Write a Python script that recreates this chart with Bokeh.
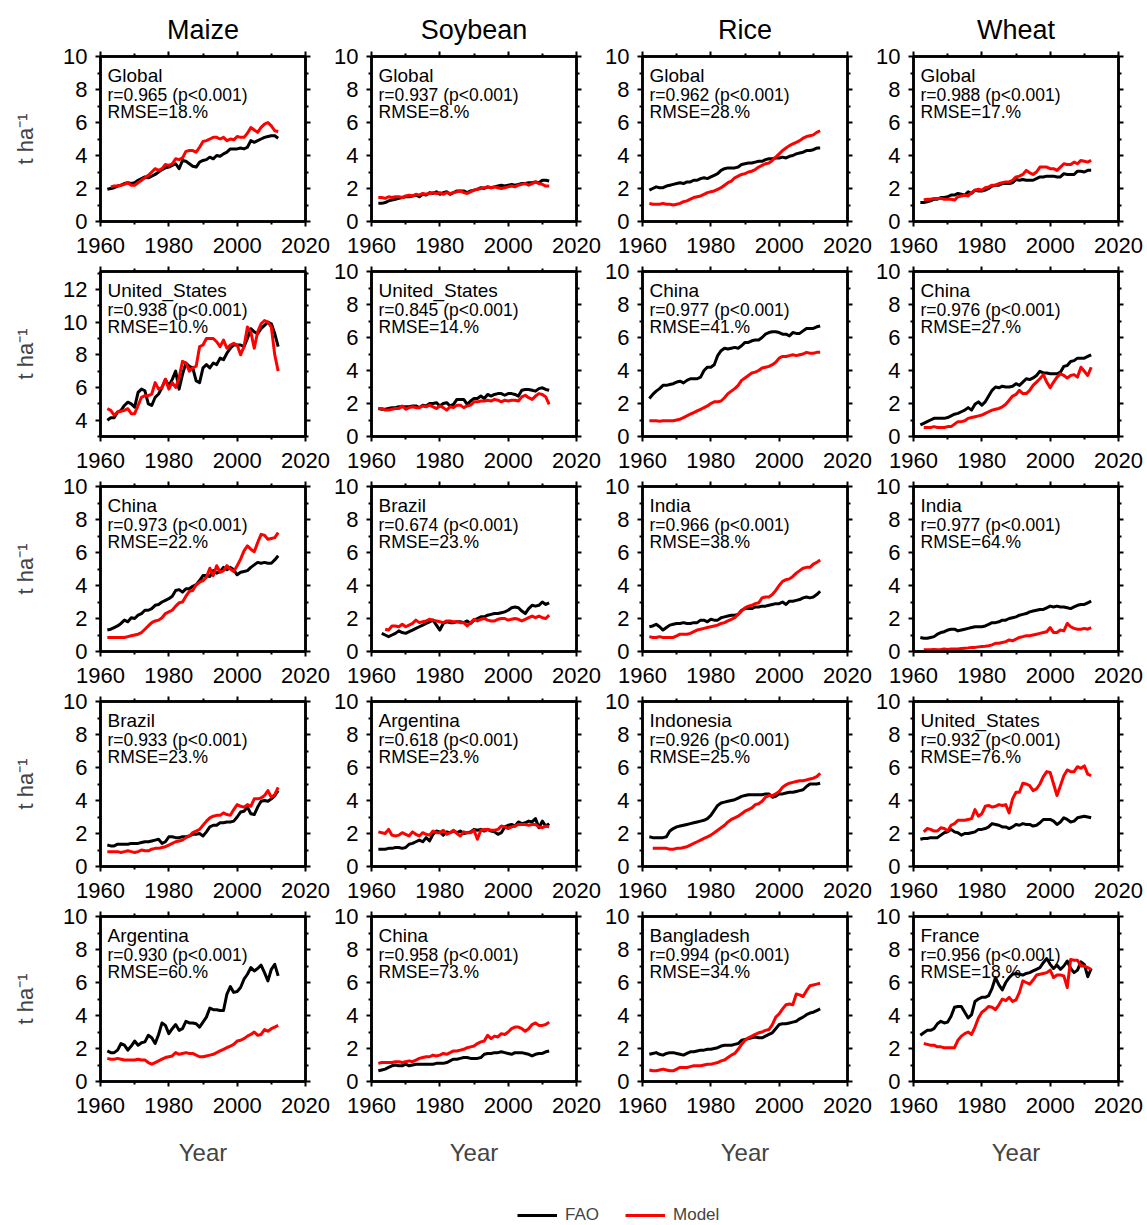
import numpy as np
from bokeh.plotting import figure
from bokeh.models import Range1d, FixedTicker, LinearAxis, Label, Legend, LegendItem
from bokeh.layouts import gridplot, column
from bokeh.embed import file_html
from bokeh.resources import INLINE

nan = float("nan")
years = list(range(1962, 2013))

crops = ["Maize", "Soybean", "Rice", "Wheat"]

region_names = [
    ["Global", "Global", "Global", "Global"],
    ["United_States", "United_States", "China", "China"],
    ["China", "Brazil", "India", "India"],
    ["Brazil", "Argentina", "Indonesia", "United_States"],
    ["Argentina", "China", "Bangladesh", "France"],
]
r_values = [
    [0.965, 0.937, 0.962, 0.988],
    [0.938, 0.845, 0.977, 0.976],
    [0.973, 0.674, 0.966, 0.977],
    [0.933, 0.618, 0.926, 0.932],
    [0.930, 0.958, 0.994, 0.956],
]
rmse_pct = [
    [18, 8, 28, 17],
    [10, 14, 41, 27],
    [22, 23, 38, 64],
    [23, 23, 25, 76],
    [60, 73, 34, 18],
]

# yields in t/ha, 1962-2012 (FAO statistics vs. simulated)
maize_global_fao = [1.95, 2.0, 2.05, 2.15, 2.2, 2.3, 2.35, 2.3,
    2.35, 2.5, 2.6, 2.7, 2.65, 2.75, 2.85, 3.0, 3.15, 3.25,
    3.3, 3.4, 3.5, 3.2, 3.7, 3.65, 3.5, 3.35, 3.3, 3.6,
    3.7, 3.75, 3.9, 3.8, 4.0, 3.95, 4.1, 4.2, 4.4, 4.4,
    4.4, 4.45, 4.4, 4.5, 4.9, 4.8, 4.9, 5.0, 5.1, 5.15,
    5.2, 5.2, 5.05]
maize_global_model = [nan, 2.1, 2.15, 2.15, 2.2, 2.25, 2.35, 2.2,
    2.2, 2.35, 2.5, 2.65, 2.8, 3.0, 3.2, 3.1, 3.2, 3.45,
    3.4, 3.5, 3.8, 3.75, 3.85, 4.25, 4.3, 4.3, 4.2, 4.5,
    4.85, 4.9, 5.0, 5.1, 5.1, 5.0, 5.1, 4.9, 5.0, 4.95,
    5.15, 5.1, 5.1, 5.35, 5.7, 5.55, 5.4, 5.7, 5.9, 6.0,
    5.8, 5.5, 5.45]

soy_global_fao = [1.1, 1.1, 1.15, 1.25, 1.3, 1.35, 1.4, 1.45,
    1.5, 1.5, 1.55, 1.6, 1.5, 1.65, 1.6, 1.75, 1.7, 1.8,
    1.65, 1.75, 1.8, 1.65, 1.75, 1.85, 1.85, 1.85, 1.75, 1.85,
    1.9, 1.95, 2.05, 2.0, 2.1, 2.05, 2.1, 2.15, 2.2, 2.15,
    2.2, 2.25, 2.2, 2.25, 2.3, 2.3, 2.35, 2.35, 2.4, 2.35,
    2.5, 2.5, 2.45]
soy_global_model = [1.45, 1.45, 1.4, 1.5, 1.45, 1.5, 1.5, 1.45,
    1.55, 1.6, 1.55, 1.65, 1.6, 1.7, 1.65, 1.7, 1.75, 1.7,
    1.75, 1.65, 1.75, 1.7, 1.75, 1.8, 1.85, 1.75, 1.7, 1.8,
    1.9, 1.95, 2.0, 2.05, 2.1, 2.05, 2.1, 2.05, 2.0, 2.05,
    2.1, 2.15, 2.1, 2.2, 2.25, 2.3, 2.2, 2.3, 2.4, 2.3,
    2.25, 2.15, 2.15]

rice_global_fao = [1.9, 2.0, 2.1, 2.05, 2.05, 2.15, 2.2, 2.25,
    2.3, 2.35, 2.3, 2.4, 2.4, 2.5, 2.5, 2.6, 2.65, 2.6,
    2.7, 2.8, 2.9, 3.1, 3.2, 3.25, 3.25, 3.25, 3.3, 3.45,
    3.5, 3.55, 3.55, 3.6, 3.65, 3.65, 3.75, 3.8, 3.8, 3.85,
    3.85, 3.9, 3.85, 3.95, 4.0, 4.1, 4.15, 4.2, 4.3, 4.3,
    4.35, 4.45, 4.45]
rice_global_model = [1.1, 1.05, 1.05, 1.05, 1.1, 1.05, 1.05, 1.0,
    1.05, 1.1, 1.2, 1.25, 1.35, 1.45, 1.5, 1.55, 1.65, 1.75,
    1.8, 1.85, 1.95, 2.05, 2.2, 2.35, 2.45, 2.65, 2.75, 2.85,
    2.9, 3.0, 3.05, 3.15, 3.3, 3.4, 3.5, 3.55, 3.7, 3.9,
    4.1, 4.3, 4.45, 4.6, 4.7, 4.8, 4.9, 5.05, 5.15, 5.2,
    5.25, 5.4, 5.5]

wheat_global_fao = [1.15, 1.15, 1.2, 1.25, 1.35, 1.35, 1.45, 1.45,
    1.5, 1.6, 1.6, 1.7, 1.65, 1.6, 1.8, 1.7, 1.9, 1.85,
    1.85, 1.9, 2.0, 2.15, 2.2, 2.2, 2.3, 2.3, 2.3, 2.35,
    2.55, 2.5, 2.55, 2.5, 2.5, 2.5, 2.6, 2.7, 2.7, 2.75,
    2.75, 2.75, 2.7, 2.7, 2.9, 2.85, 2.85, 2.85, 3.05, 3.05,
    3.0, 3.1, 3.1]
wheat_global_model = [nan, 1.3, 1.35, 1.35, 1.4, 1.4, 1.4, 1.35,
    1.35, 1.35, 1.3, 1.5, 1.55, 1.6, 1.55, 1.75, 1.9, 1.95,
    1.9, 2.05, 2.1, 2.2, 2.2, 2.3, 2.35, 2.4, 2.4, 2.5,
    2.7, 2.75, 2.85, 3.1, 2.95, 2.85, 3.0, 3.3, 3.3, 3.3,
    3.2, 3.2, 3.1, 3.3, 3.5, 3.45, 3.45, 3.6, 3.5, 3.7,
    3.65, 3.6, 3.7]

maize_us_fao = [4.0, 4.15, 4.15, 4.5, 4.6, 4.9, 5.1, 5.0,
    4.8, 5.7, 5.9, 5.8, 5.0, 4.9, 5.4, 5.6, 6.0, 6.5,
    6.1, 6.5, 7.0, 5.9, 6.8, 7.5, 7.3, 7.2, 6.4, 6.3,
    7.2, 7.4, 7.2, 7.5, 7.4, 7.8, 7.7, 8.1, 8.4, 8.6,
    8.6, 8.6, 8.5, 9.0, 9.6, 9.4, 9.3, 9.6, 9.8, 10.0,
    9.9, 9.3, 8.5]
maize_us_model = [4.7, 4.6, 4.3, 4.5, 4.55, 4.6, 4.7, 4.4,
    4.4, 4.9, 5.4, 5.5, 5.5, 5.6, 6.3, 5.9, 6.0, 6.5,
    5.9, 6.3, 6.0, 6.6, 7.6, 7.5, 7.0, 7.2, 7.3, 8.5,
    8.6, 9.0, 9.0, 9.0, 8.8, 8.5, 8.9, 8.4, 8.6, 8.7,
    8.6, 8.0, 8.5, 9.7, 9.4, 8.4, 9.4, 9.9, 10.1, 10.0,
    9.7, 8.0, 7.0]

soy_us_fao = [1.7, 1.65, 1.65, 1.7, 1.75, 1.75, 1.8, 1.8,
    1.8, 1.8, 1.85, 1.85, 1.75, 1.9, 1.85, 2.0, 2.0, 2.05,
    1.85, 2.0, 2.05, 1.85, 1.95, 2.25, 2.25, 2.25, 1.95, 2.15,
    2.3, 2.3, 2.45, 2.3, 2.55, 2.45, 2.55, 2.6, 2.6, 2.5,
    2.6, 2.6, 2.55, 2.45, 2.8, 2.85, 2.85, 2.8, 2.75, 2.9,
    2.95, 2.85, 2.8]
soy_us_model = [1.7, 1.7, 1.6, 1.6, 1.65, 1.7, 1.7, 1.85,
    1.65, 1.75, 1.8, 1.75, 1.75, 1.85, 1.8, 1.9, 1.8, 1.7,
    1.85, 1.75, 1.6, 1.8, 1.75, 1.9, 1.9, 1.75, 1.85, 1.9,
    2.1, 2.1, 2.15, 2.15, 2.2, 2.15, 2.25, 2.2, 2.1, 2.2,
    2.15, 2.2, 2.2, 2.15, 2.4, 2.5, 2.35, 2.25, 2.45, 2.6,
    2.55, 2.4, 1.95]

rice_china_fao = [2.3, 2.55, 2.75, 2.9, 3.1, 3.1, 3.15, 3.2,
    3.3, 3.35, 3.25, 3.4, 3.5, 3.5, 3.5, 3.6, 4.0, 4.2,
    4.2, 4.35, 4.9, 5.2, 5.35, 5.3, 5.35, 5.4, 5.35, 5.5,
    5.7, 5.7, 5.8, 5.85, 5.85, 6.0, 6.2, 6.3, 6.35, 6.35,
    6.3, 6.2, 6.2, 6.1, 6.3, 6.25, 6.25, 6.4, 6.55, 6.55,
    6.55, 6.65, 6.7]
rice_china_model = [0.95, 0.95, 0.95, 0.93, 0.95, 0.95, 0.95, 0.95,
    1.0, 1.05, 1.15, 1.25, 1.35, 1.45, 1.55, 1.65, 1.75, 1.85,
    2.0, 2.1, 2.1, 2.15, 2.35, 2.6, 2.75, 2.9, 3.1, 3.4,
    3.55, 3.7, 3.85, 3.9, 4.0, 4.15, 4.2, 4.25, 4.35, 4.5,
    4.75, 4.85, 4.85, 4.9, 4.95, 4.9, 4.95, 5.0, 5.1, 5.05,
    5.05, 5.1, 5.1]

wheat_china_fao = [0.7, 0.8, 0.9, 1.0, 1.1, 1.1, 1.1, 1.1,
    1.15, 1.25, 1.35, 1.4, 1.5, 1.6, 1.75, 1.6, 1.95, 2.1,
    1.9, 2.1, 2.45, 2.8, 3.0, 2.95, 3.05, 3.0, 3.0, 3.05,
    3.2, 3.1, 3.3, 3.5, 3.45, 3.55, 3.7, 3.95, 3.85, 3.85,
    3.8, 3.8, 3.8, 3.9, 4.25, 4.3, 4.55, 4.6, 4.75, 4.75,
    4.75, 4.85, 4.95]
wheat_china_model = [nan, 0.55, 0.55, 0.55, 0.6, 0.55, 0.55, 0.55,
    0.6, 0.6, 0.75, 0.9, 0.9, 0.95, 1.1, 1.15, 1.2, 1.25,
    1.3, 1.4, 1.5, 1.6, 1.65, 1.7, 1.8, 1.95, 2.2, 2.45,
    2.55, 2.8, 2.6, 2.6, 2.8, 3.1, 3.3, 3.5, 3.75, 3.3,
    2.95, 3.3, 3.6, 3.8, 3.7, 3.55, 3.7, 3.75, 3.6, 4.2,
    3.95, 3.7, 4.2]

maize_china_fao = [1.3, 1.35, 1.45, 1.55, 1.7, 1.9, 1.8, 2.05,
    2.0, 2.2, 2.3, 2.5, 2.5, 2.6, 2.8, 2.85, 3.0, 3.1,
    3.2, 3.35, 3.7, 3.75, 3.6, 3.8, 3.8, 3.95, 4.05, 4.3,
    4.6, 4.6, 4.55, 4.9, 4.75, 4.85, 5.1, 4.95, 5.1, 4.95,
    4.65, 4.8, 4.85, 4.9, 5.1, 5.25, 5.4, 5.35, 5.4, 5.35,
    5.35, 5.55, 5.8]
maize_china_model = [0.85, 0.85, 0.85, 0.85, 0.85, 0.85, 0.9, 0.95,
    1.0, 1.05, 1.15, 1.35, 1.55, 1.75, 1.85, 1.9, 2.05, 2.3,
    2.4, 2.5, 2.75, 2.95, 3.0, 3.35, 3.65, 3.7, 4.05, 4.2,
    4.3, 4.5, 5.05, 4.6, 5.2, 4.8, 4.9, 5.2, 5.0, 4.85,
    5.2, 5.6, 6.1, 6.4, 6.2, 6.05, 6.6, 7.1, 7.05, 6.8,
    6.85, 6.9, 7.2]

soy_brazil_fao = [nan, 1.1, 1.0, 0.9, 1.0, 1.1, 1.25, 1.15,
    1.1, 1.2, 1.3, 1.4, 1.5, 1.6, 1.7, 1.8, 1.9, 1.6,
    1.3, 1.7, 1.8, 1.75, 1.75, 1.8, 1.8, 1.75, 1.85, 1.7,
    1.9, 2.0, 2.1, 2.1, 2.2, 2.25, 2.3, 2.3, 2.35, 2.4,
    2.5, 2.65, 2.7, 2.65, 2.45, 2.3, 2.6, 2.8, 2.75, 2.8,
    3.0, 2.85, 2.95]
soy_brazil_model = [nan, nan, 1.35, 1.3, 1.55, 1.55, 1.5, 1.65,
    1.5, 1.6, 1.7, 1.9, 1.75, 1.8, 1.85, 1.95, 1.9, 1.85,
    1.8, 1.75, 1.85, 1.85, 1.8, 1.8, 1.75, 1.75, 1.55, 1.75,
    1.95, 1.85, 1.95, 2.0, 1.9, 1.85, 1.85, 1.95, 2.0, 2.0,
    1.9, 1.95, 2.0, 1.95, 1.85, 1.95, 2.05, 2.15, 2.05, 2.15,
    2.05, 2.0, 2.2]

rice_india_fao = [1.5, 1.55, 1.65, 1.5, 1.3, 1.45, 1.6, 1.65,
    1.7, 1.7, 1.75, 1.7, 1.7, 1.75, 1.75, 1.9, 1.9, 1.8,
    1.95, 1.9, 1.9, 2.05, 2.1, 2.15, 2.2, 2.2, 2.25, 2.5,
    2.6, 2.6, 2.6, 2.7, 2.7, 2.75, 2.75, 2.8, 2.85, 2.9,
    2.9, 3.0, 2.85, 3.05, 3.05, 3.1, 3.15, 3.25, 3.3, 3.25,
    3.3, 3.45, 3.65]
rice_india_model = [0.9, 0.85, 0.85, 0.9, 0.85, 0.85, 0.85, 0.85,
    0.95, 1.05, 1.05, 1.05, 1.1, 1.2, 1.3, 1.35, 1.4, 1.45,
    1.5, 1.55, 1.6, 1.7, 1.75, 1.85, 1.95, 2.05, 2.25, 2.45,
    2.65, 2.75, 2.8, 2.9, 2.95, 3.25, 3.3, 3.3, 3.45, 3.7,
    4.0, 4.25, 4.35, 4.4, 4.55, 4.75, 4.9, 5.05, 5.1, 5.1,
    5.3, 5.4, 5.55]

wheat_india_fao = [0.85, 0.8, 0.8, 0.85, 0.9, 1.05, 1.15, 1.2,
    1.3, 1.35, 1.35, 1.25, 1.3, 1.35, 1.4, 1.45, 1.5, 1.5,
    1.5, 1.55, 1.65, 1.75, 1.75, 1.8, 1.9, 1.9, 2.0, 2.05,
    2.1, 2.2, 2.25, 2.3, 2.4, 2.45, 2.5, 2.55, 2.55, 2.65,
    2.75, 2.7, 2.75, 2.7, 2.7, 2.65, 2.6, 2.7, 2.8, 2.85,
    2.85, 2.95, 3.05]
wheat_india_model = [nan, 0.1, 0.1, 0.1, 0.12, 0.1, 0.12, 0.15,
    0.12, 0.15, 0.15, 0.15, 0.18, 0.2, 0.22, 0.25, 0.25, 0.28,
    0.3, 0.32, 0.35, 0.4, 0.5, 0.5, 0.55, 0.6, 0.7, 0.65,
    0.75, 0.85, 0.9, 0.95, 0.95, 1.0, 1.05, 1.1, 1.15, 1.2,
    1.45, 1.15, 1.15, 1.3, 1.25, 1.7, 1.5, 1.4, 1.35, 1.35,
    1.4, 1.35, 1.45]

maize_brazil_fao = [1.3, 1.25, 1.25, 1.35, 1.35, 1.35, 1.35, 1.4,
    1.4, 1.4, 1.45, 1.5, 1.5, 1.55, 1.6, 1.65, 1.4, 1.5,
    1.8, 1.8, 1.75, 1.75, 1.8, 1.8, 1.85, 1.95, 1.95, 2.0,
    1.85, 2.1, 2.4, 2.5, 2.5, 2.65, 2.65, 2.7, 2.7, 2.75,
    3.0, 3.3, 3.35, 3.6, 3.2, 3.15, 3.6, 3.95, 4.0, 3.95,
    4.1, 4.3, 4.6]
maize_brazil_model = [0.9, 0.9, 0.9, 0.9, 0.85, 0.9, 0.95, 0.9,
    0.85, 0.9, 1.0, 0.95, 0.95, 1.05, 1.1, 1.1, 1.15, 1.2,
    1.3, 1.4, 1.5, 1.55, 1.6, 1.75, 1.85, 2.05, 2.15, 2.25,
    2.5, 2.75, 2.95, 3.05, 3.1, 3.1, 3.25, 3.15, 3.1, 3.45,
    3.75, 3.65, 3.6, 3.75, 3.65, 4.1, 4.1, 4.15, 4.3, 4.6,
    4.2, 4.35, 4.8]

soy_argentina_fao = [1.05, 1.05, 1.05, 1.1, 1.1, 1.15, 1.15, 1.1,
    1.15, 1.35, 1.4, 1.5, 1.6, 1.5, 1.75, 1.55, 1.95, 2.15,
    2.1, 1.9, 2.1, 2.05, 2.15, 2.05, 2.15, 2.0, 2.05, 2.1,
    2.25, 2.2, 2.25, 2.15, 2.25, 2.15, 2.1, 1.95, 2.05, 2.4,
    2.5, 2.55, 2.45, 2.7, 2.6, 2.65, 2.75, 2.7, 2.9, 2.35,
    2.75, 2.45, 2.6]
soy_argentina_model = [2.1, 2.05, 2.0, 2.25, 1.9, 1.85, 1.9, 2.05,
    1.95, 1.85, 2.1, 1.95, 1.85, 2.05, 1.95, 1.9, 2.15, 2.05,
    2.05, 2.2, 1.95, 2.05, 2.2, 2.0, 1.85, 2.1, 2.05, 2.05,
    2.2, 1.65, 2.2, 2.25, 2.25, 2.2, 2.2, 2.25, 2.45, 2.4,
    2.3, 2.4, 2.45, 2.55, 2.55, 2.55, 2.5, 2.55, 2.55, 2.4,
    2.35, 2.45, 2.4]

rice_indonesia_fao = [1.8, 1.75, 1.75, 1.75, 1.75, 1.8, 2.15, 2.3,
    2.4, 2.45, 2.5, 2.55, 2.6, 2.65, 2.7, 2.75, 2.8, 2.9,
    3.1, 3.4, 3.7, 3.85, 3.9, 3.95, 4.0, 4.05, 4.15, 4.25,
    4.3, 4.35, 4.35, 4.35, 4.35, 4.35, 4.4, 4.4, 4.2, 4.25,
    4.4, 4.4, 4.45, 4.5, 4.5, 4.55, 4.6, 4.65, 4.85, 5.0,
    5.0, 5.0, 5.05]
rice_indonesia_model = [nan, 1.1, 1.1, 1.1, 1.1, 1.1, 1.05, 1.05,
    1.1, 1.1, 1.15, 1.2, 1.3, 1.4, 1.5, 1.6, 1.7, 1.8,
    1.9, 2.05, 2.2, 2.35, 2.5, 2.7, 2.85, 2.95, 3.05, 3.2,
    3.35, 3.45, 3.55, 3.75, 3.8, 3.95, 4.2, 4.3, 4.3, 4.4,
    4.55, 4.8, 4.95, 5.05, 5.1, 5.15, 5.2, 5.2, 5.25, 5.3,
    5.35, 5.45, 5.65]

wheat_us_fao = [1.65, 1.7, 1.7, 1.75, 1.75, 1.75, 1.9, 2.05,
    2.1, 2.25, 2.1, 2.05, 1.9, 2.0, 2.0, 2.05, 2.1, 2.25,
    2.25, 2.3, 2.4, 2.6, 2.55, 2.5, 2.4, 2.4, 2.3, 2.4,
    2.55, 2.5, 2.6, 2.55, 2.55, 2.45, 2.5, 2.65, 2.85, 2.85,
    2.85, 2.75, 2.55, 2.7, 2.95, 2.85, 2.7, 2.75, 2.95, 3.0,
    3.05, 3.0, 2.95]
wheat_us_model = [nan, 2.1, 2.3, 2.25, 2.15, 2.15, 2.35, 2.3,
    2.15, 2.5, 2.6, 2.8, 2.8, 2.8, 2.85, 2.9, 3.45, 3.05,
    3.2, 3.65, 3.7, 3.6, 3.65, 3.75, 3.7, 3.75, 3.25, 4.1,
    4.5, 4.5, 5.05, 5.0, 4.9, 4.6, 4.7, 5.0, 5.45, 5.75,
    5.7, 5.0, 4.3, 4.9, 5.5, 5.85, 5.75, 5.75, 6.05, 5.95,
    6.1, 5.6, 5.5]

maize_argentina_fao = [1.85, 1.75, 1.75, 1.9, 2.3, 2.2, 1.9, 2.15,
    2.45, 2.2, 2.35, 2.4, 2.8, 2.65, 2.3, 2.85, 3.55, 3.4,
    2.9, 3.2, 3.45, 3.1, 3.2, 3.65, 3.55, 3.55, 3.5, 3.3,
    3.6, 3.9, 4.45, 4.35, 4.35, 4.3, 4.3, 5.3, 5.75, 5.4,
    5.45, 5.7, 6.2, 6.5, 6.9, 6.7, 6.85, 7.05, 6.6, 6.1,
    6.8, 7.1, 6.4]
maize_argentina_model = [1.4, 1.35, 1.35, 1.4, 1.35, 1.3, 1.3, 1.3,
    1.3, 1.35, 1.3, 1.3, 1.15, 1.05, 1.15, 1.25, 1.35, 1.45,
    1.5, 1.55, 1.75, 1.65, 1.7, 1.75, 1.7, 1.7, 1.6, 1.5,
    1.5, 1.55, 1.6, 1.65, 1.75, 1.85, 1.95, 2.05, 2.15, 2.25,
    2.45, 2.5, 2.6, 2.75, 2.85, 3.0, 2.8, 2.85, 3.15, 3.05,
    3.2, 3.3, 3.4]

soy_china_fao = [0.65, 0.7, 0.75, 0.85, 0.95, 1.0, 0.95, 0.95,
    1.05, 0.95, 1.0, 1.05, 1.05, 1.05, 1.05, 1.05, 1.05, 1.1,
    1.1, 1.1, 1.15, 1.25, 1.35, 1.35, 1.4, 1.45, 1.45, 1.4,
    1.4, 1.4, 1.45, 1.65, 1.7, 1.7, 1.75, 1.75, 1.8, 1.75,
    1.7, 1.65, 1.75, 1.75, 1.75, 1.7, 1.65, 1.55, 1.65, 1.7,
    1.7, 1.8, 1.85]
soy_china_model = [1.1, 1.15, 1.15, 1.15, 1.15, 1.2, 1.2, 1.15,
    1.2, 1.25, 1.2, 1.3, 1.4, 1.45, 1.5, 1.5, 1.6, 1.55,
    1.6, 1.7, 1.65, 1.75, 1.85, 1.85, 1.9, 1.95, 2.05, 2.1,
    2.15, 2.3, 2.4, 2.45, 2.8, 2.6, 2.75, 2.7, 2.9, 2.85,
    3.0, 3.2, 3.3, 3.3, 3.2, 3.05, 3.2, 3.45, 3.55, 3.4,
    3.4, 3.45, 3.6]

rice_bangladesh_fao = [1.65, 1.7, 1.75, 1.65, 1.6, 1.7, 1.75, 1.75,
    1.7, 1.65, 1.6, 1.7, 1.8, 1.8, 1.85, 1.9, 1.9, 1.95,
    1.95, 2.0, 2.05, 2.15, 2.2, 2.2, 2.2, 2.25, 2.3, 2.5,
    2.55, 2.6, 2.65, 2.7, 2.65, 2.65, 2.75, 2.85, 2.95, 3.2,
    3.45, 3.5, 3.5, 3.55, 3.6, 3.65, 3.8, 3.9, 4.05, 4.15,
    4.2, 4.3, 4.4]
rice_bangladesh_model = [0.7, 0.65, 0.65, 0.7, 0.75, 0.7, 0.65, 0.65,
    0.75, 0.85, 0.85, 0.85, 0.9, 0.95, 0.95, 0.95, 1.0, 1.05,
    1.05, 1.1, 1.15, 1.25, 1.3, 1.45, 1.6, 1.7, 1.95, 2.25,
    2.5, 2.65, 2.75, 2.85, 2.95, 3.0, 3.1, 3.15, 3.45, 3.9,
    4.1, 4.4, 4.65, 4.7, 4.65, 5.3, 5.25, 5.15, 5.5, 5.8,
    5.85, 5.9, 5.95]

wheat_france_fao = [2.8, 2.95, 3.1, 3.1, 3.2, 3.5, 3.65, 3.55,
    3.6, 3.95, 4.5, 4.55, 4.55, 4.2, 3.85, 4.05, 4.85, 5.0,
    5.1, 5.1, 5.2, 5.65, 6.3, 5.85, 5.55, 6.0, 6.3, 6.5,
    6.55, 6.5, 6.45, 6.55, 6.6, 6.7, 6.8, 6.9, 7.2, 7.45,
    7.1, 6.85, 7.05, 6.8, 7.0, 7.3, 6.85, 6.6, 6.75, 7.25,
    7.1, 6.35, 6.85]
wheat_france_model = [nan, 2.3, 2.25, 2.2, 2.2, 2.1, 2.1, 2.05,
    2.05, 2.05, 2.05, 2.5, 2.75, 2.9, 3.0, 2.85, 3.3, 3.85,
    4.2, 4.35, 4.55, 4.5, 4.35, 4.65, 5.0, 4.9, 5.1, 4.85,
    4.95, 5.4, 6.1, 6.0, 5.9, 6.15, 6.45, 6.5, 6.55, 6.6,
    6.75, 6.3, 6.45, 6.45, 6.4, 5.7, 7.4, 7.35, 7.35, 7.0,
    7.0, 6.9, 6.8]

fao_series = [
    [maize_global_fao, soy_global_fao, rice_global_fao, wheat_global_fao],
    [maize_us_fao, soy_us_fao, rice_china_fao, wheat_china_fao],
    [maize_china_fao, soy_brazil_fao, rice_india_fao, wheat_india_fao],
    [maize_brazil_fao, soy_argentina_fao, rice_indonesia_fao, wheat_us_fao],
    [maize_argentina_fao, soy_china_fao, rice_bangladesh_fao, wheat_france_fao],
]
model_series = [
    [maize_global_model, soy_global_model, rice_global_model, wheat_global_model],
    [maize_us_model, soy_us_model, rice_china_model, wheat_china_model],
    [maize_china_model, soy_brazil_model, rice_india_model, wheat_india_model],
    [maize_brazil_model, soy_argentina_model, rice_indonesia_model, wheat_us_model],
    [maize_argentina_model, soy_china_model, rice_bangladesh_model, wheat_france_model],
]

FONT = "Liberation Sans"
FRAME_W, FRAME_H = 205, 165
X_LO, X_HI = 1960, 2020

x_ticker = FixedTicker(ticks=[1960, 1980, 2000, 2020], minor_ticks=[1970, 1990, 2010])


def y_limits(i, j):
    if (i, j) == (1, 0):
        return 3.0, 13.1
    return 0.0, 10.0


def y_ticker(lo, hi):
    if lo > 0:
        return FixedTicker(ticks=[4, 6, 8, 10, 12], minor_ticks=[3, 5, 7, 9, 11, 13])
    return FixedTicker(ticks=[0, 2, 4, 6, 8, 10], minor_ticks=[1, 3, 5, 7, 9])


def style_axis(ax, labels=True, standoff=8):
    ax.axis_line_width = 2.5
    ax.axis_line_color = "black"
    ax.major_tick_in = 0
    ax.major_tick_out = 5
    ax.minor_tick_in = 0
    ax.minor_tick_out = 3
    ax.major_tick_line_width = 2
    ax.minor_tick_line_width = 2
    ax.major_tick_line_color = "black"
    ax.minor_tick_line_color = "black"
    if labels:
        ax.major_label_text_font = FONT
        ax.major_label_text_font_size = "22px"
        ax.major_label_text_color = "black"
        ax.major_label_standoff = standoff
    else:
        # tick marks only: the mirrored axes carry no numbers
        ax.major_label_text_font_size = "1px"
        ax.major_label_text_color = None
        ax.major_label_standoff = 0


def make_panel(i, j):
    lo, hi = y_limits(i, j)
    yt = y_ticker(lo, hi)
    p = figure(
        frame_width=FRAME_W, frame_height=FRAME_H,
        x_range=Range1d(X_LO, X_HI), y_range=Range1d(lo, hi),
        min_border_left=100 if j == 0 else 40,
        min_border_right=26,
        min_border_top=56 if i == 0 else 13,
        min_border_bottom=90 if i == 4 else 37,
        toolbar_location=None, output_backend="svg",
        title=crops[j] if i == 0 else None,
        background_fill_color="white", border_fill_color="white",
        outline_line_color="black", outline_line_width=2.5,
    )
    p.xgrid.visible = False
    p.ygrid.visible = False

    bottom = p.below[0]
    left = p.left[0]
    bottom.ticker = x_ticker
    left.ticker = yt
    style_axis(bottom, standoff=11)
    style_axis(left, standoff=8)

    top = LinearAxis(ticker=x_ticker)
    right = LinearAxis(ticker=yt)
    style_axis(top, labels=False)
    style_axis(right, labels=False)
    p.add_layout(top, "above")
    p.add_layout(right, "right")

    if i == 0:
        p.title.text_font = FONT
        p.title.text_font_size = "27px"
        p.title.text_font_style = "normal"
        p.title.text_color = "black"
        p.title.align = "center"
        p.title.standoff = 13
    if j == 0:
        left.axis_label = "t ha\u207b\u00b9"
        left.axis_label_text_font = FONT
        left.axis_label_text_font_size = "22px"
        left.axis_label_text_font_style = "normal"
        left.axis_label_standoff = 22
    if i == 4:
        bottom.axis_label = "Year"
        bottom.axis_label_text_font = FONT
        bottom.axis_label_text_font_size = "24px"
        bottom.axis_label_text_font_style = "normal"
        bottom.axis_label_standoff = 23

    fao = np.array(fao_series[i][j], dtype=float)
    mod = np.array(model_series[i][j], dtype=float)
    yrs = np.array(years, dtype=float)
    p.line(yrs, fao, line_color="black", line_width=3, line_join="round")
    p.line(yrs, mod, line_color="#ff0000", line_width=3, line_join="round")

    # annotation block in the upper-left corner of the frame
    x_txt = X_LO + 7.0 * (X_HI - X_LO) / FRAME_W

    def y_at(px_from_top):
        return hi - px_from_top * (hi - lo) / FRAME_H

    lines = [
        (region_names[i][j], "19px", 19.0),
        ("r=%.3f (p<0.001)" % r_values[i][j], "17.5px", 38.5),
        ("RMSE=%d.%%" % rmse_pct[i][j], "17.5px", 55.5),
    ]
    for txt, size, off in lines:
        p.add_layout(Label(x=x_txt, y=y_at(off), text=txt, text_font=FONT,
                           text_font_size=size, text_color="black",
                           text_baseline="alphabetic", text_align="left"))
    return p


grid_rows = [[make_panel(i, j) for j in range(4)] for i in range(5)]
grid = gridplot(grid_rows, toolbar_location=None)

# key strip under the grid
leg = figure(width=1144, height=54, x_range=Range1d(0, 1), y_range=Range1d(0, 1),
             toolbar_location=None, output_backend="svg",
             min_border_left=517, min_border_right=0, min_border_top=0, min_border_bottom=0,
             outline_line_color=None, background_fill_color="white", border_fill_color="white")
leg.axis.visible = False
leg.grid.visible = False
r_fao = leg.line(x=[nan], y=[nan], line_color="black", line_width=3)
r_mod = leg.line(x=[nan], y=[nan], line_color="#ff0000", line_width=3)
legend = Legend(items=[LegendItem(label="FAO", renderers=[r_fao]),
                       LegendItem(label="Model", renderers=[r_mod])],
                orientation="horizontal", location="bottom_left",
                padding=0, margin=0, spacing=26, glyph_width=40, glyph_height=20,
                label_standoff=8, label_text_font=FONT, label_text_font_size="17px",
                border_line_color=None, background_fill_alpha=0)
leg.add_layout(legend)

page = column(grid, leg)
open("out.html", "w").write(file_html(page, INLINE))
